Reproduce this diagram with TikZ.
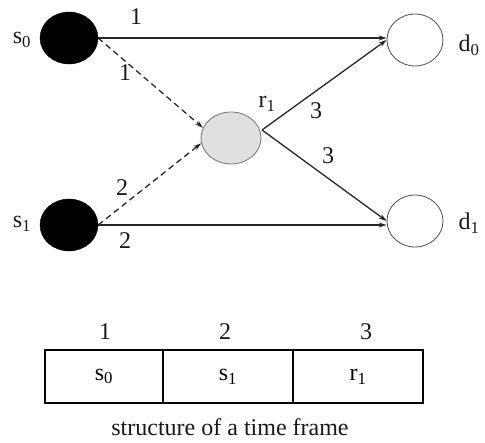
\documentclass[tikz,border=0pt]{standalone}
\usepackage{fontspec}
\setmainfont{Liberation Serif}
\usetikzlibrary{arrows.meta,shapes.geometric}
\begin{document}
\begin{tikzpicture}[x=1pt,y=-1pt,
  every node/.style={font=\fontsize{24}{26}\selectfont},
  src/.style={ellipse,draw=black,fill=black,minimum width=58pt,minimum height=52pt,inner sep=0pt},
  dst/.style={ellipse,draw=black!70,line width=0.8pt,fill=white,minimum width=56pt,minimum height=52pt,inner sep=0pt},
  rel/.style={ellipse,draw=black!55,line width=0.8pt,fill=black!12,minimum width=60pt,minimum height=52pt,inner sep=0pt},
  link/.style={draw=black!85,line width=1.3pt,-{Stealth[length=8pt,width=5pt]}},
  dlink/.style={link,dash pattern=on 6pt off 4pt},
  lbl/.style={inner sep=0pt,text=black!90},
  cell/.style={draw=black,line width=1.4pt,minimum height=53pt,inner sep=0pt}]
\useasboundingbox (0,0) rectangle (485,443);
\node[src] (s0) at (69,38) {};
\node[src] (s1) at (69,225) {};
\node[rel] (r1) at (231,138) {};
\node[dst] (d0) at (415,40) {};
\node[dst] (d1) at (415,221) {};
\node[lbl] (ls0) at (22,40) {s\textsubscript{0}};
\node[lbl] (ls1) at (22,224) {s\textsubscript{1}};
\node[lbl] (lr1) at (267,104) {r\textsubscript{1}};
\node[lbl] (ld0) at (469,45) {d\textsubscript{0}};
\node[lbl] (ld1) at (469,223) {d\textsubscript{1}};
\coordinate (r1o) at (262,130);
\draw[link] (s0.east) -- (d0.west |- s0.east);
\draw[link] (s1.east) -- (d1.west |- s1.east);
\draw[dlink] (s0.east) -- (r1.160);
\draw[dlink] (s1.east) -- (r1.190);
\draw[link] (r1o) -- (d0.west);
\draw[link] (r1o) -- (d1.west);
\node[lbl] (e1) at (136,17) {1};
\node[lbl] (e2) at (125,73) {1};
\node[lbl] (e3) at (122,188) {2};
\node[lbl] (e4) at (125,241) {2};
\node[lbl] (e5) at (316,111) {3};
\node[lbl] (e6) at (328,156) {3};
\node[cell,minimum width=118pt] (c1) at (104,376.5) {s\textsubscript{0}};
\node[cell,minimum width=130pt] (c2) at (228,376.5) {s\textsubscript{1}};
\node[cell,minimum width=130pt] (c3) at (358,376.5) {r\textsubscript{1}};
\node[lbl] (n1) at (105,332) {1};
\node[lbl] (n2) at (225,332) {2};
\node[lbl] (n3) at (366,332) {3};
\node[lbl,anchor=base] (cap) at (230,436) {structure of a time frame};
\end{tikzpicture}
\end{document}
